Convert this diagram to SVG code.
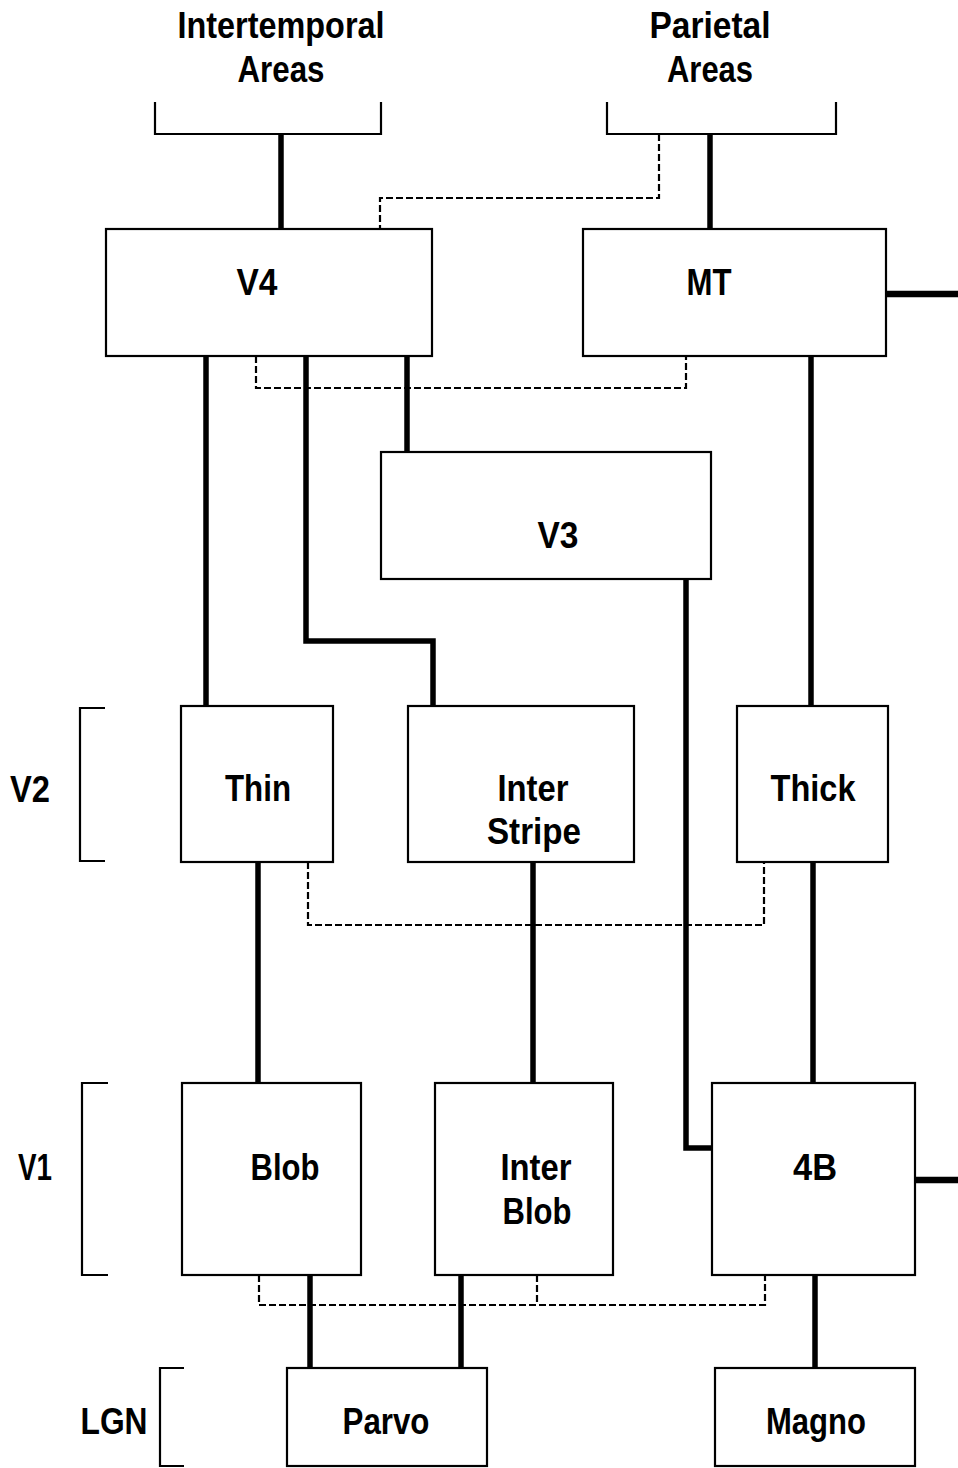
<svg xmlns="http://www.w3.org/2000/svg" width="958" height="1468" viewBox="0 0 958 1468">
<style>
.box{fill:#fff;stroke:#000;stroke-width:2.2}
.br{fill:none;stroke:#000;stroke-width:2.2}
.thick{fill:none;stroke:#000;stroke-width:5.5;stroke-linecap:butt}
.dash{fill:none;stroke:#000;stroke-width:2.2;stroke-dasharray:7 3}
text{font-family:"Liberation Sans",Arial,sans-serif;font-weight:bold;font-size:36px;fill:#000}
</style>
<g id="connectors">
<path class="thick" d="M281 134V229"/>
<path class="thick" d="M710 134V229"/>
<path class="dash" d="M659 134V198H380V229"/>
<path class="thick" d="M886 294H958" style="stroke-width:6.5"/>
<path class="thick" d="M206 356V706"/>
<path class="thick" d="M306 356V641H433V706"/>
<path class="thick" d="M407 356V452"/>
<path class="dash" d="M256 356V388H686V356"/>
<path class="thick" d="M811 356V706"/>
<path class="thick" d="M686 579V1148H712"/>
<path class="dash" d="M308 862V925H764V862"/>
<path class="thick" d="M258 862V1083"/>
<path class="thick" d="M533 862V1083"/>
<path class="thick" d="M813 862V1083"/>
<path class="thick" d="M915 1180H958" style="stroke-width:6.5"/>
<path class="dash" d="M259 1275V1305H765V1275"/>
<path class="dash" d="M537 1275V1305"/>
<path class="thick" d="M310 1275V1368"/>
<path class="thick" d="M461 1275V1368"/>
<path class="thick" d="M815 1275V1368"/>
</g>
<g id="intertemporal">
<path class="br" d="M155 102V134H381V102"/>
<text x="281" y="38" text-anchor="middle" textLength="207" lengthAdjust="spacingAndGlyphs">Intertemporal</text>
<text x="281" y="82" text-anchor="middle" textLength="87" lengthAdjust="spacingAndGlyphs">Areas</text>
</g>
<g id="parietal">
<path class="br" d="M607 102V134H836V102"/>
<text x="710" y="38" text-anchor="middle" textLength="121" lengthAdjust="spacingAndGlyphs">Parietal</text>
<text x="710" y="82" text-anchor="middle" textLength="86" lengthAdjust="spacingAndGlyphs">Areas</text>
</g>
<g id="v4">
<rect class="box" x="106" y="229" width="326" height="127"/>
<text x="257" y="295" text-anchor="middle" textLength="41" lengthAdjust="spacingAndGlyphs">V4</text>
</g>
<g id="mt">
<rect class="box" x="583" y="229" width="303" height="127"/>
<text x="709" y="295" text-anchor="middle" textLength="45" lengthAdjust="spacingAndGlyphs">MT</text>
</g>
<g id="v3">
<rect class="box" x="381" y="452" width="330" height="127"/>
<text x="558" y="548" text-anchor="middle" textLength="41" lengthAdjust="spacingAndGlyphs">V3</text>
</g>
<g id="v2-label">
<path class="br" d="M105 708H80V861H105"/>
<text x="30" y="802" text-anchor="middle" textLength="40" lengthAdjust="spacingAndGlyphs">V2</text>
</g>
<g id="thin">
<rect class="box" x="181" y="706" width="152" height="156"/>
<text x="258" y="801" text-anchor="middle" textLength="66" lengthAdjust="spacingAndGlyphs">Thin</text>
</g>
<g id="interstripe">
<rect class="box" x="408" y="706" width="226" height="156"/>
<text x="533" y="801" text-anchor="middle" textLength="71" lengthAdjust="spacingAndGlyphs">Inter</text>
<text x="534" y="844" text-anchor="middle" textLength="94" lengthAdjust="spacingAndGlyphs">Stripe</text>
</g>
<g id="thick">
<rect class="box" x="737" y="706" width="151" height="156"/>
<text x="813" y="801" text-anchor="middle" textLength="85" lengthAdjust="spacingAndGlyphs">Thick</text>
</g>
<g id="v1-label">
<path class="br" d="M108 1083H82V1275H108"/>
<text x="35" y="1180" text-anchor="middle" textLength="34" lengthAdjust="spacingAndGlyphs">V1</text>
</g>
<g id="blob">
<rect class="box" x="182" y="1083" width="179" height="192"/>
<text x="285" y="1180" text-anchor="middle" textLength="69" lengthAdjust="spacingAndGlyphs">Blob</text>
</g>
<g id="interblob">
<rect class="box" x="435" y="1083" width="178" height="192"/>
<text x="536" y="1180" text-anchor="middle" textLength="71" lengthAdjust="spacingAndGlyphs">Inter</text>
<text x="537" y="1224" text-anchor="middle" textLength="69" lengthAdjust="spacingAndGlyphs">Blob</text>
</g>
<g id="4b">
<rect class="box" x="712" y="1083" width="203" height="192"/>
<text x="815" y="1180" text-anchor="middle" textLength="44" lengthAdjust="spacingAndGlyphs">4B</text>
</g>
<g id="lgn-label">
<path class="br" d="M184 1368H160V1466H184"/>
<text x="114" y="1434" text-anchor="middle" textLength="67" lengthAdjust="spacingAndGlyphs">LGN</text>
</g>
<g id="parvo">
<rect class="box" x="287" y="1368" width="200" height="98"/>
<text x="386" y="1434" text-anchor="middle" textLength="87" lengthAdjust="spacingAndGlyphs">Parvo</text>
</g>
<g id="magno">
<rect class="box" x="715" y="1368" width="200" height="98"/>
<text x="816" y="1434" text-anchor="middle" textLength="100" lengthAdjust="spacingAndGlyphs">Magno</text>
</g>
</svg>
